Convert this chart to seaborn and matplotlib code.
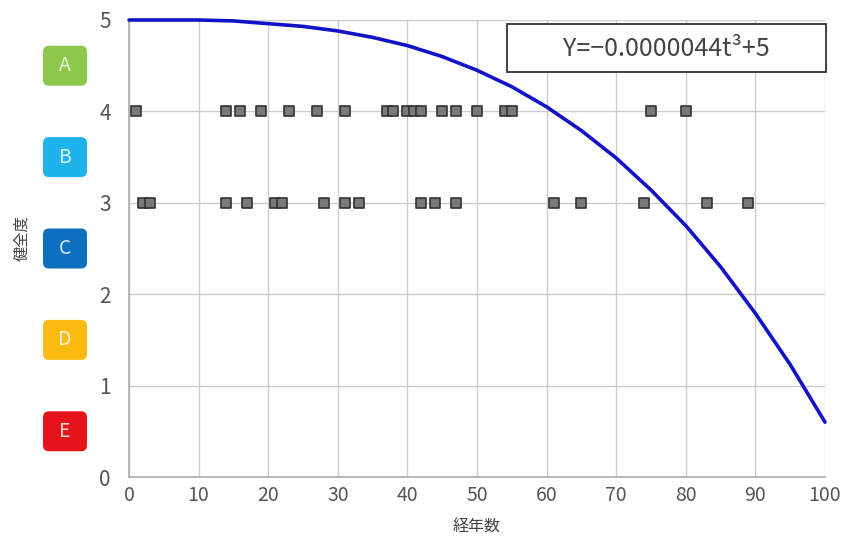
import numpy as np
import pandas as pd
import matplotlib
matplotlib.use('Agg')
import matplotlib.pyplot as plt
from matplotlib.patches import FancyBboxPatch, Rectangle
from matplotlib.transforms import IdentityTransform
import seaborn as sns

# 点検データ（経年数, 健全度）
years_4 = [1, 14, 16, 19, 23, 27, 31, 37, 38, 40, 41, 42, 45, 47, 50, 54, 55, 75, 80]
years_3 = [2, 3, 14, 17, 21, 22, 28, 31, 33, 42, 44, 47, 61, 65, 74, 83, 89]

# 劣化曲線 Y=-0.0000044t^3+5
curve_t = [0, 5, 10, 15, 20, 25, 30, 35, 40, 45, 50, 55, 60, 65, 70, 75, 80, 85, 90, 95, 100]
curve_y = [5.00, 5.00, 5.00, 4.99, 4.96, 4.93, 4.88, 4.81, 4.72, 4.60, 4.45, 4.27,
           4.05, 3.79, 3.49, 3.14, 2.75, 2.30, 1.79, 1.23, 0.60]

grade_labels = ['A', 'B', 'C', 'D', 'E']
grade_levels = [4.5, 3.5, 2.5, 1.5, 0.5]
grade_colors = ['#8cc84b', '#1fb3ec', '#0c6fbf', '#fbbb10', '#e5141b']

formula_text = 'Y=\u22120.0000044t\u00b3+5'

sns.set_theme(style='whitegrid')
plt.rcParams['font.family'] = ['Noto Sans CJK JP', 'DejaVu Sans']

pts = pd.DataFrame({
    't': years_4 + years_3,
    'score': [4] * len(years_4) + [3] * len(years_3),
})
curve = pd.DataFrame({'t': curve_t, 'y': curve_y})

fig = plt.figure(figsize=(8.53, 5.54), dpi=100)
ax = fig.add_axes([129 / 853, 1 - 477 / 554, 696 / 853, 457 / 554])

sns.scatterplot(data=pts, x='t', y='score', marker='s', s=52, color='#7a7a7a',
                edgecolor='#333333', linewidth=1.2, ax=ax, zorder=3, clip_on=False)
sns.lineplot(data=curve, x='t', y='y', color='#1212c8', linewidth=2.6, ax=ax,
             zorder=4, clip_on=False)

ax.set_xlim(0, 100)
ax.set_ylim(0, 5)
ax.set_xticks(range(0, 101, 10))
ax.set_yticks(range(0, 6))
ax.grid(True, color='#cccccc', linewidth=1)
ax.tick_params(axis='both', length=0, labelcolor='#555555')
ax.tick_params(axis='y', pad=13, labelsize=15)
ax.tick_params(axis='x', pad=6, labelsize=14)
for side in ['top', 'right']:
    ax.spines[side].set_visible(False)
for side in ['left', 'bottom']:
    ax.spines[side].set_color('#aaaaaa')
    ax.spines[side].set_linewidth(1.2)

ax.set_xlabel('経年数', fontsize=11.5, color='#444444', labelpad=9)
ax.set_ylabel('')
fig.text(22 / 853, 0.57, '健全度', rotation=90, ha='center', va='center',
         fontsize=11, color='#444444')

# 数式ボックス
ax.add_patch(Rectangle((0.543, 0.886), 0.458, 0.105, transform=ax.transAxes,
                       facecolor='white', edgecolor='#333333', linewidth=1.3,
                       zorder=5, clip_on=False))
ax.text(0.772, 0.937, formula_text, transform=ax.transAxes, ha='center', va='center',
        fontsize=18, color='#444444', zorder=6)

# 健全度ランクのバッジ
fig.canvas.draw()
bw, bh = 44, 40
cx = 65
for lab, lev, col in zip(grade_labels, grade_levels, grade_colors):
    _, cy = ax.transData.transform((0, lev))
    patch = FancyBboxPatch((cx - bw / 2, cy - bh / 2), bw, bh,
                           boxstyle='round,pad=0,rounding_size=6',
                           facecolor=col, edgecolor='none',
                           transform=IdentityTransform())
    fig.add_artist(patch)
    fig.text(cx / 853, cy / 554, lab, ha='center', va='center', fontsize=14,
             color='white', alpha=0.85)

fig.savefig('out.png', dpi=100)
